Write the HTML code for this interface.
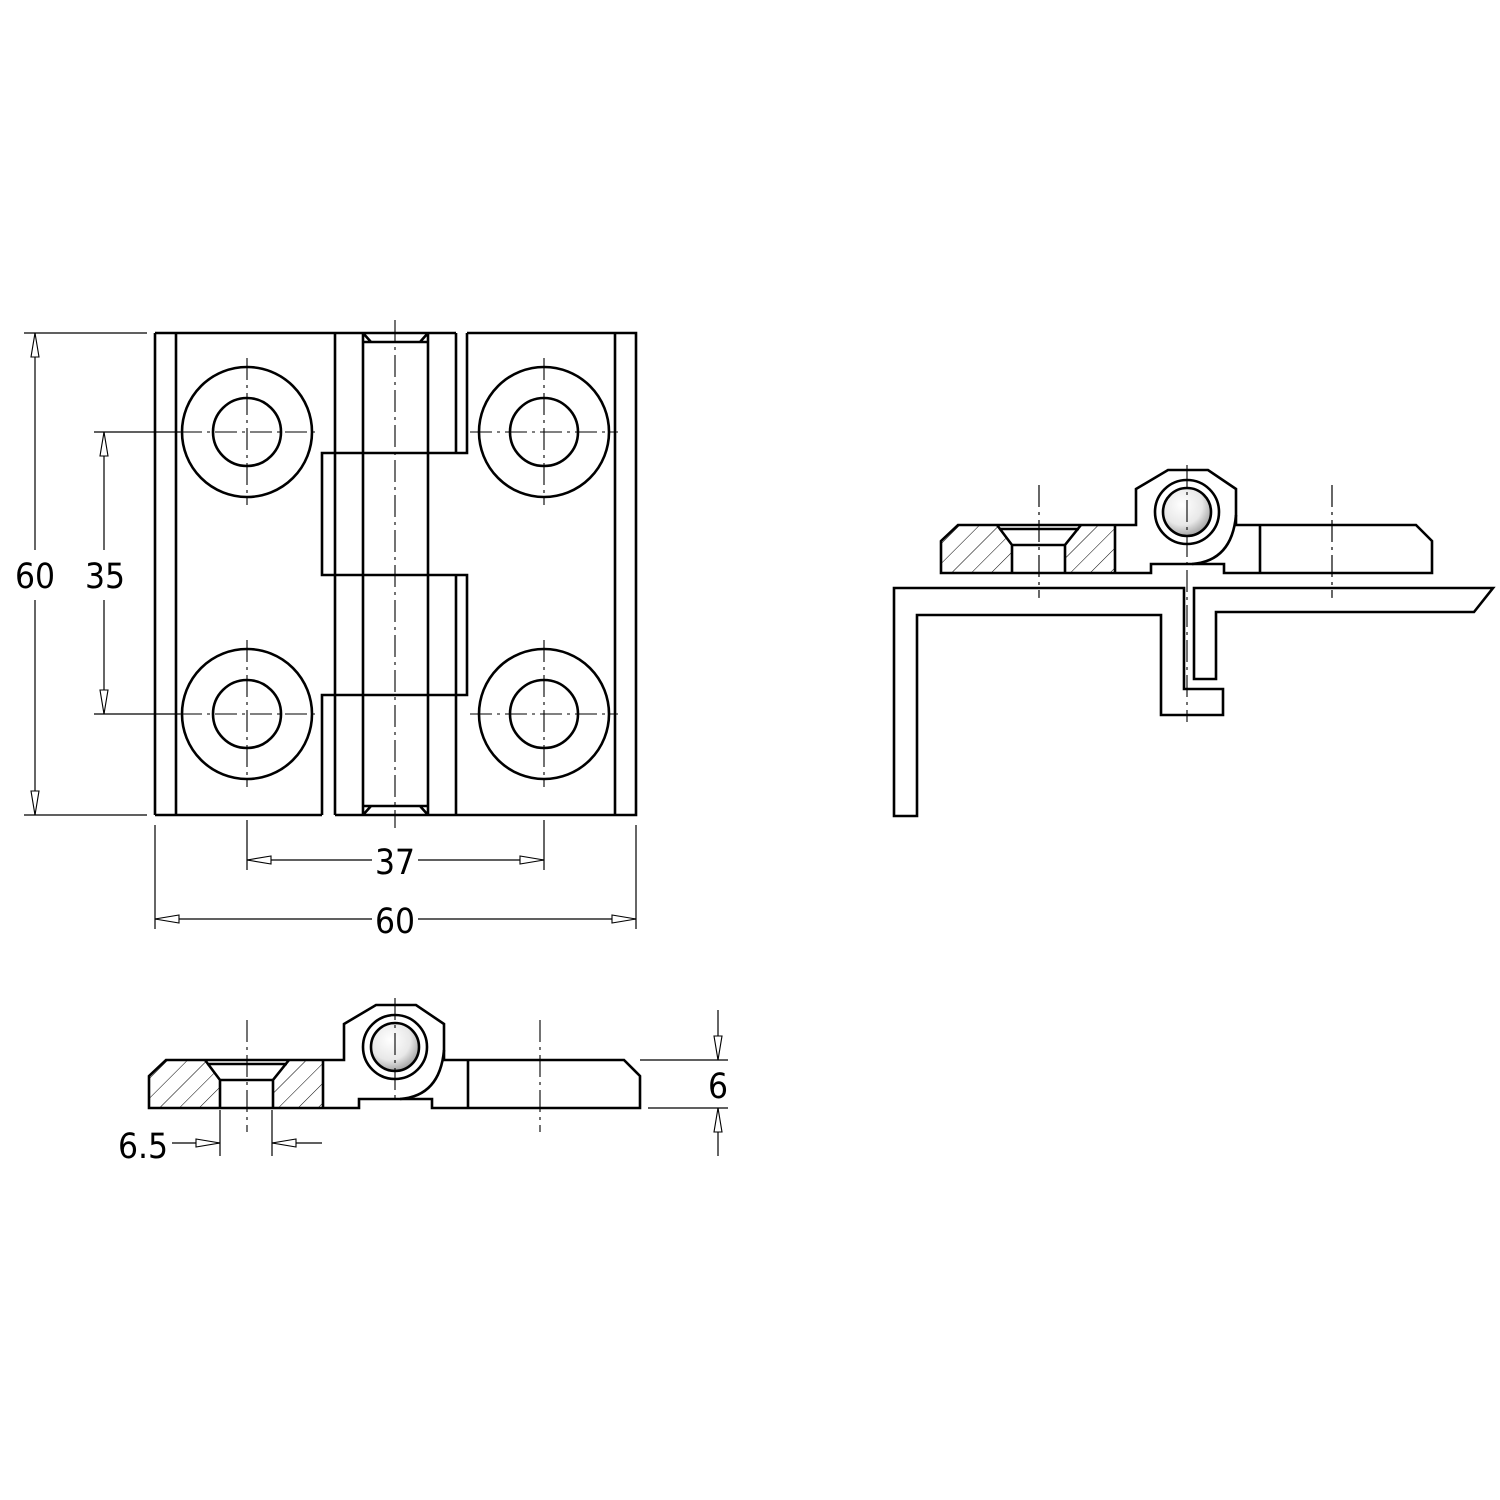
<!DOCTYPE html>
<html><head><meta charset="utf-8"><style>
html,body{margin:0;padding:0;background:#fff}
svg{display:block}
text{font-family:"Liberation Sans Narrow","DejaVu Sans Condensed","Liberation Sans",sans-serif;font-size:35px;fill:#000;text-anchor:middle}
.k{fill:none;stroke:#000;stroke-width:2.6;stroke-linejoin:miter}
.t{fill:none;stroke:#000;stroke-width:1.2}
.c{fill:none;stroke:#000;stroke-width:1.1;stroke-dasharray:22,5,3,5}
</style></head><body>
<svg width="1500" height="1500" viewBox="0 0 1500 1500" xmlns="http://www.w3.org/2000/svg">
<defs>
<marker id="a" viewBox="-27 -6 28 12" markerWidth="28" markerHeight="12" refX="0" refY="0" orient="auto-start-reverse" markerUnits="userSpaceOnUse">
<path d="M0,0 L-24,-4 L-24,4 Z" fill="#fff" stroke="#000" stroke-width="1.1"/>
</marker>
<pattern id="h" width="14" height="14" patternUnits="userSpaceOnUse" patternTransform="rotate(45)">
<line x1="0" y1="0" x2="0" y2="14" stroke="#000" stroke-width="1"/>
</pattern>
<radialGradient id="g" cx="0.4" cy="0.35" r="0.7">
<stop offset="0" stop-color="#fff"/><stop offset="0.6" stop-color="#e8e8e8"/><stop offset="1" stop-color="#999"/>
</radialGradient>
<g id="part">
<path d="M149,1076 L166,1060 L205,1060 L220,1080 L220,1108 L149,1108 Z" fill="url(#h)"/>
<path d="M289,1060 L323,1060 L323,1108 L273,1108 L273,1080 Z" fill="url(#h)"/>
<path class="k" d="M149,1108 L149,1076 L166,1060 L344,1060 L344,1024 L376,1005 L416,1005 L444,1024 L444,1060 L624,1060 L640,1076 L640,1108 L432,1108 L432,1099 L359,1099 L359,1108 Z"/>
<path class="k" d="M444,1050 Q440,1096 400,1099"/>
<path class="k" d="M205,1060 L220,1080 L220,1108 M289,1060 L273,1080 L273,1108 M220,1080 L273,1080 M207,1064 L287,1064 M323,1060 L323,1108 M468,1060 L468,1108"/>
<circle cx="395" cy="1047" r="32" class="k"/>
<circle cx="395" cy="1047" r="24" fill="url(#g)" stroke="#000" stroke-width="2.6"/>
<line class="c" x1="247" y1="1020" x2="247" y2="1132"/>
<line class="c" x1="540" y1="1020" x2="540" y2="1132"/>
</g>
</defs>

<g>
<circle cx="247" cy="432" r="65" class="k"/><circle cx="247" cy="432" r="34" class="k"/>
<circle cx="544" cy="432" r="65" class="k"/><circle cx="544" cy="432" r="34" class="k"/>
<circle cx="247" cy="714" r="65" class="k"/><circle cx="247" cy="714" r="34" class="k"/>
<circle cx="544" cy="714" r="65" class="k"/><circle cx="544" cy="714" r="34" class="k"/>
<path class="k" d="M155,333 L456,333 M467,333 L636,333 L636,815 L335,815 M322,815 L155,815 Z
M155,333 L155,815 M176,333 L176,815 M615,333 L615,815
M335,333 L335,815 M363,333 L363,815 M428,333 L428,815
M456,333 L456,453 M456,575 L456,815
M467,333 L467,453 L322,453 L322,575 L467,575 L467,695 L322,695 L322,815
M363,342 L428,342 M363,806 L428,806
M363,333 L371,342 M428,333 L420,342 M363,815 L371,806 M428,815 L420,806"/>
<line class="c" x1="395" y1="320" x2="395" y2="828"/>
<line class="c" x1="247" y1="358" x2="247" y2="505"/><line class="c" x1="544" y1="358" x2="544" y2="505"/>
<line class="c" x1="247" y1="640" x2="247" y2="787"/><line class="c" x1="544" y1="640" x2="544" y2="787"/>
<line class="c" x1="470" y1="432" x2="618" y2="432"/><line class="c" x1="470" y1="714" x2="618" y2="714"/>
<line class="c" x1="180" y1="432" x2="320" y2="432"/><line class="c" x1="180" y1="714" x2="320" y2="714"/>
</g>

<g class="t">
<line x1="24" y1="333" x2="147" y2="333"/><line x1="24" y1="815" x2="147" y2="815"/>
<line x1="94" y1="432" x2="180" y2="432"/><line x1="94" y1="714" x2="180" y2="714"/>
<line x1="35" y1="333" x2="35" y2="550" marker-start="url(#a)"/><line x1="35" y1="600" x2="35" y2="815" marker-end="url(#a)"/>
<line x1="104" y1="432" x2="104" y2="550" marker-start="url(#a)"/><line x1="104" y1="600" x2="104" y2="714" marker-end="url(#a)"/>
<line x1="247" y1="820" x2="247" y2="870"/><line x1="544" y1="820" x2="544" y2="870"/>
<line x1="155" y1="825" x2="155" y2="929"/><line x1="636" y1="825" x2="636" y2="929"/>
<line x1="247" y1="860" x2="372" y2="860" marker-start="url(#a)"/><line x1="418" y1="860" x2="544" y2="860" marker-end="url(#a)"/>
<line x1="155" y1="919" x2="372" y2="919" marker-start="url(#a)"/><line x1="418" y1="919" x2="636" y2="919" marker-end="url(#a)"/>
</g>
<text x="35" y="588">60</text>
<text x="105" y="588">35</text>
<text x="395" y="874">37</text>
<text x="395" y="933">60</text>

<use href="#part"/>
<line class="c" x1="395" y1="998" x2="395" y2="1102"/>
<g class="t">
<line x1="640" y1="1060" x2="728" y2="1060"/><line x1="648" y1="1108" x2="728" y2="1108"/>
<line x1="718" y1="1010" x2="718" y2="1060" marker-end="url(#a)"/>
<line x1="718" y1="1156" x2="718" y2="1108" marker-end="url(#a)"/>
<line x1="220" y1="1110" x2="220" y2="1156"/><line x1="272" y1="1110" x2="272" y2="1156"/>
<line x1="172" y1="1143" x2="220" y2="1143" marker-end="url(#a)"/>
<line x1="322" y1="1143" x2="272" y2="1143" marker-end="url(#a)"/>
</g>
<text x="718" y="1098">6</text>
<text x="143" y="1158">6.5</text>

<use href="#part" transform="translate(792,-535)"/>
<path class="k" d="M894,588 L1184,588 L1184,689 L1223,689 L1223,715 L1161,715 L1161,615 L917,615 L917,816 L894,816 Z"/>
<path class="k" d="M1194,588 L1493,588 L1474,612 L1216,612 L1216,679 L1194,679 Z"/>
<line class="c" x1="1187" y1="465" x2="1187" y2="722"/>
<line class="c" x1="1039" y1="485" x2="1039" y2="598"/>
<line class="c" x1="1332" y1="485" x2="1332" y2="598"/>
</svg>
</body></html>
